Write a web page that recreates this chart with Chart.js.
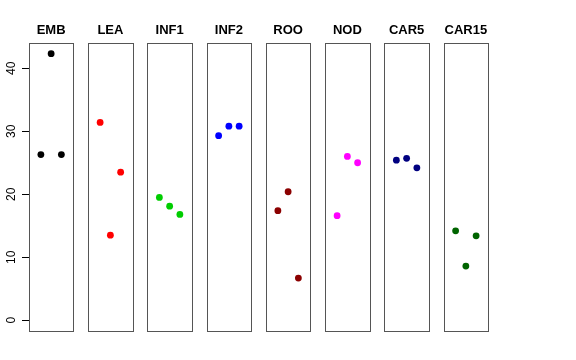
<!DOCTYPE html>
<html lang="en">
  <head>
    <meta charset="utf-8">
    <title>panels</title>
    <script src="https://cdn.jsdelivr.net/npm/chart.js@4.4.1/dist/chart.umd.min.js"></script>
    <style>
      body { margin: 0; background: #fff; }
    </style>
  </head>
  <body>
    <canvas id="chart" width="576" height="360"></canvas>
    <script>
      // groups, one panel each
      var groups = ['EMB', 'LEA', 'INF1', 'INF2', 'ROO', 'NOD', 'CAR5', 'CAR15'];
      var colors = ['#000000', '#ff0000', '#00cd00', '#0000ff', '#8b0000', '#ff00ff', '#000080', '#006400'];

      // three values per group, read left to right
      var embVals = [26.3, 42.3, 26.3];
      var leaVals = [31.4, 13.5, 23.5];
      var inf1Vals = [19.5, 18.1, 16.8];
      var inf2Vals = [29.3, 30.8, 30.8];
      var rooVals = [17.4, 20.4, 6.7];
      var nodVals = [16.6, 26.0, 25.0];
      var car5Vals = [25.4, 25.7, 24.2];
      var car15Vals = [14.2, 8.6, 13.4];
      var allVals = [embVals, leaVals, inf1Vals, inf2Vals, rooVals, nodVals, car5Vals, car15Vals];

      var yTicks = [0, 10, 20, 30, 40];

      // each panel spans -0.16 .. 4.16 in its own units, panels are PITCH apart
      var PITCH = 5.78;
      var PLO = -0.16, PHI = 4.16;

      var datasets = groups.map(function (g, i) {
        return {
          label: g,
          data: allVals[i].map(function (v, j) { return {x: i * PITCH + j + 1, y: v}; }),
          backgroundColor: colors[i],
          borderColor: colors[i],
          pointRadius: 3.4,
          pointBorderWidth: 0
        };
      });

      var panels = {
        id: 'panels',
        beforeDatasetsDraw: function (chart) {
          var ctx = chart.ctx, xs = chart.scales.x, a = chart.chartArea;
          ctx.save();
          ctx.strokeStyle = '#555';
          ctx.lineWidth = 1;
          groups.forEach(function (g, i) {
            var l = Math.round(xs.getPixelForValue(i * PITCH + PLO)) + 0.5;
            var r = Math.round(xs.getPixelForValue(i * PITCH + PHI)) + 0.5;
            ctx.strokeRect(l, Math.round(a.top) + 0.5, r - l, Math.round(a.bottom - a.top));
          });
          ctx.restore();
        },
        afterDraw: function (chart) {
          var ctx = chart.ctx, xs = chart.scales.x, ys = chart.scales.y;
          ctx.save();
          ctx.fillStyle = '#000';
          ctx.font = 'bold 13px "Liberation Sans", Arial, sans-serif';
          ctx.textAlign = 'center';
          ctx.textBaseline = 'middle';
          groups.forEach(function (g, i) {
            ctx.fillText(g, xs.getPixelForValue(i * PITCH + 2), 30);
          });
          ctx.font = '12px "Liberation Sans", Arial, sans-serif';
          yTicks.forEach(function (v) {
            ctx.save();
            ctx.translate(12, ys.getPixelForValue(v));
            ctx.rotate(-Math.PI / 2);
            ctx.fillText(String(v), 0, 0);
            ctx.restore();
          });
          ctx.restore();
        }
      };

      new Chart(document.getElementById('chart'), {
        type: 'scatter',
        data: {datasets: datasets},
        options: {
          responsive: false,
          animation: false,
          layout: {padding: {left: 0, right: 88, top: 43, bottom: 29}},
          plugins: {legend: {display: false}, tooltip: {enabled: false}},
          scales: {
            x: {
              type: 'linear',
              min: PLO,
              max: (groups.length - 1) * PITCH + PHI,
              display: false
            },
            y: {
              min: -1.7,
              max: 44,
              afterBuildTicks: function (s) {
                s.ticks = yTicks.map(function (v) { return {value: v}; });
              },
              afterFit: function (s) { s.width = 29; },
              ticks: {display: false},
              border: {display: false},
              grid: {drawOnChartArea: false, tickLength: 7, color: '#000'}
            }
          }
        },
        plugins: [panels]
      });
    </script>
  </body>
</html>
